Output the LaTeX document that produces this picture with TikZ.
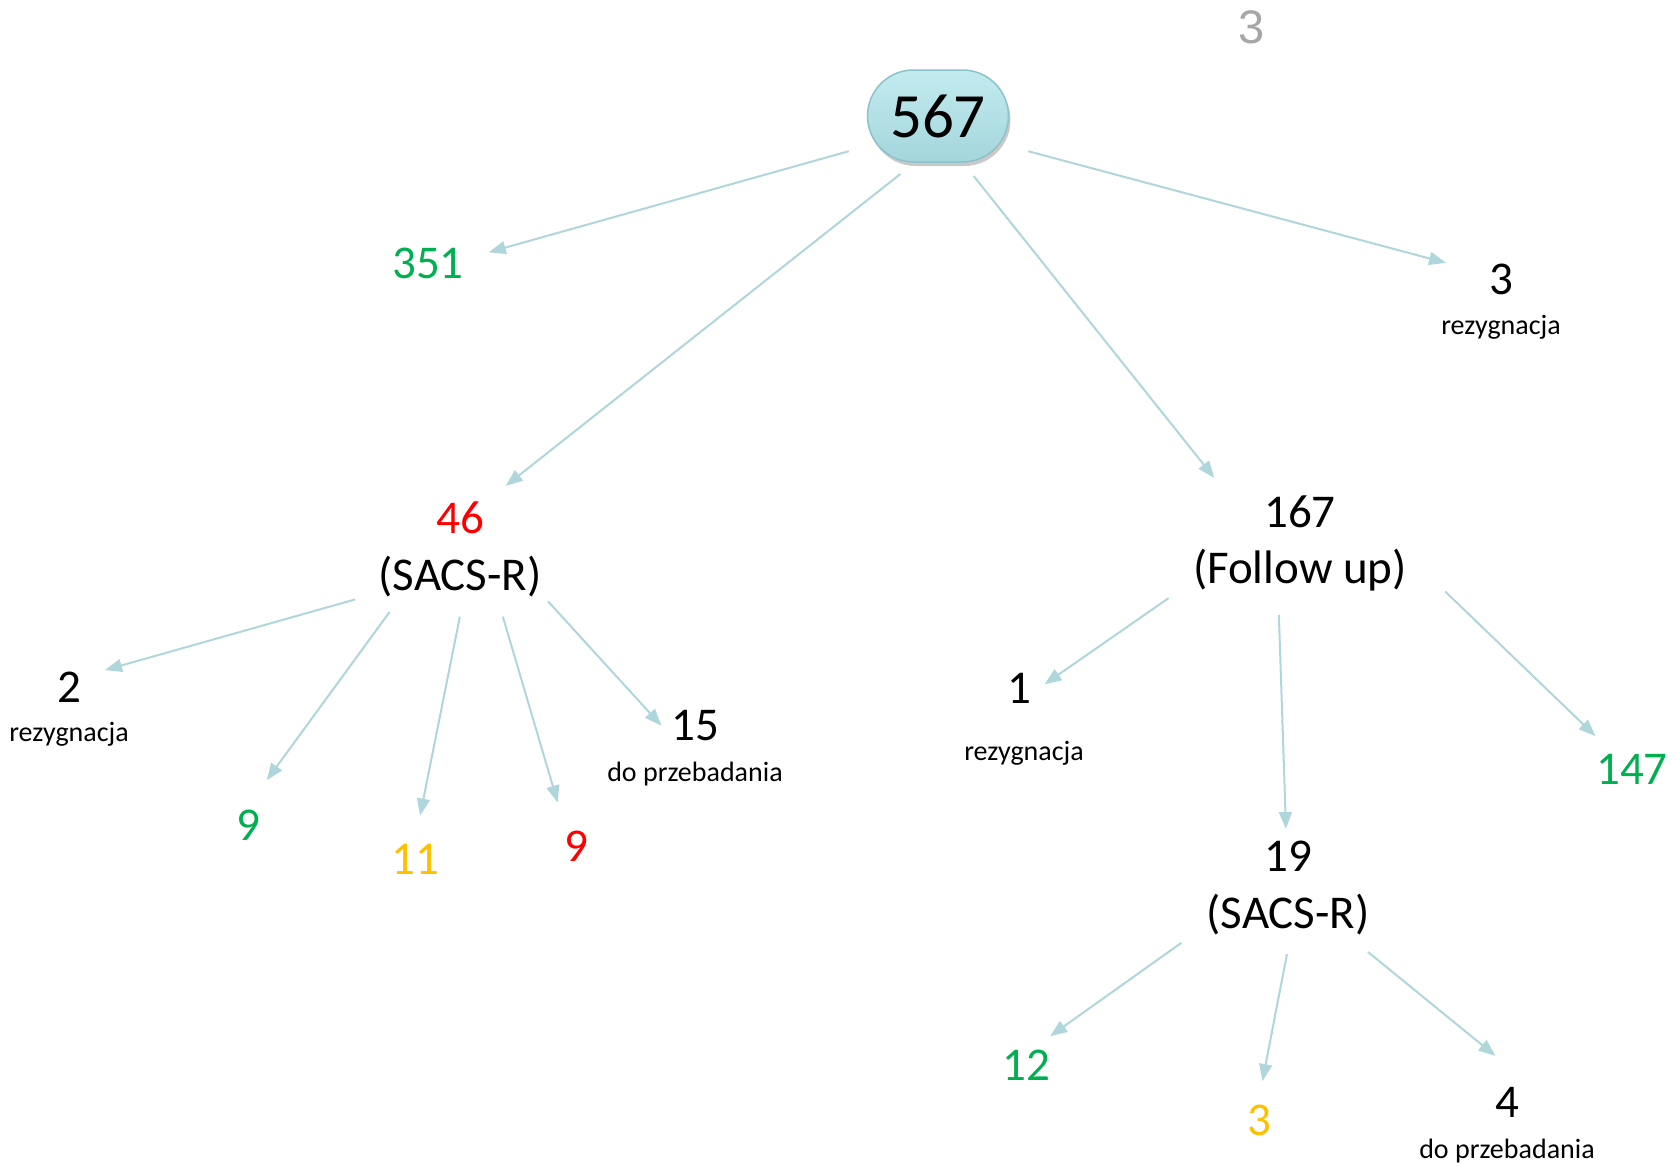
\documentclass[tikz,border=0pt]{standalone}
\usepackage{fontspec}
\setmainfont{Carlito}
\newfontfamily\arialfont{Liberation Sans}
\usetikzlibrary{arrows.meta,positioning,shadows}
\definecolor{flow}{HTML}{AED6DB}
\definecolor{okgreen}{HTML}{00B050}
\definecolor{badred}{HTML}{FF0000}
\definecolor{midamber}{HTML}{FFC000}
\definecolor{pilltop}{HTML}{C2EBEF}
\definecolor{pillbot}{HTML}{A4D6DC}
\definecolor{pilledge}{HTML}{8CC2CA}
\definecolor{faint}{HTML}{A6A6A6}

\begin{document}
\begin{tikzpicture}[x=1pt,y=-1pt,>={Triangle[length=17pt,width=13pt]},
  num/.style={inner sep=0pt,font=\fontsize{47}{56}\selectfont},
  lab/.style={inner sep=0pt,font=\fontsize{28}{34}\selectfont},
  arr/.style={->,flow,line width=2pt}]
\useasboundingbox (0,0) rectangle (1676,1165);
% root
\node[draw=pilledge,line width=1.5pt,top color=pilltop,bottom color=pillbot,rounded corners=46pt,minimum width=141pt,minimum height=92pt,inner sep=0pt,outer sep=0pt,drop shadow={shadow xshift=2pt,shadow yshift=-4pt,opacity=0.3,fill=black!70},font=\fontsize{63}{70}\selectfont] (top) at (938,116) {567};
\node[inner sep=0pt,text=faint,font=\arialfont\fontsize{47}{56}\selectfont] (mark) at (1252,27) {3};
% first level
\node[num,text=okgreen] (n351) at (428,263) {351};
\node[num] (n3r) at (1501,279) {3};
\node[lab,below=20pt of n3r] (lab3r) {rezygnacja};
\node[num,text=badred] (n46) at (460,518) {46};
\node[num] (sacsA) at (460,577) {(SACS-R)};
\node[num] (n167) at (1300,512) {167};
\node[num] (fol) at (1300,570) {(Follow up)};
% SACS-R branch
\node[num] (n2) at (69,687) {2};
\node[lab,below=20pt of n2] (lab2) {rezygnacja};
\node[num,text=okgreen] (n9g) at (248,825) {9};
\node[num,text=midamber] (n11) at (415,859) {11};
\node[num,text=badred] (n9r) at (576,846) {9};
\node[num] (n15) at (695,726) {15};
\node[lab,below=20pt of n15] (lab15) {do przebadania};
% follow up branch
\node[num] (n1) at (1019,688) {1};
\node[lab,below=38pt of n1,xshift=5pt] (lab1) {rezygnacja};
\node[num,text=okgreen] (n147) at (1632,769) {147};
\node[num] (n19) at (1288,856) {19};
\node[num] (sacsB) at (1288,915) {(SACS-R)};
\node[num,text=okgreen] (n12) at (1026,1065) {12};
\node[num,text=midamber] (n3y) at (1259,1120) {3};
\node[num,outer sep=15pt] (n4) at (1507,1102) {4};
\node[lab,below=7pt of n4] (lab4) {do przebadania};
% connectors
\draw[arr,shorten <=19.5pt,shorten >=25.8pt] (top.203.5) -- (n351.6.1);
\draw[arr,shorten <=19.4pt,shorten >=27.6pt] (top.244.6) -- (n46.32);
\draw[arr,shorten <=17.9pt,shorten >=90.7pt] (top.298.4) -- (fol.144.3);
\draw[arr,shorten <=20.5pt,shorten >=44.4pt] (top.337.4) -- (n3r.159.3);
\draw[arr,shorten <=24.1pt,shorten >=24.8pt] (sacsA.191.9) -- (n2.40.6);
\draw[arr,shorten <=17.5pt,shorten >=36.3pt] (sacsA.199.8) -- (n9g.100.3);
\draw[arr,shorten <=19.4pt,shorten >=28.7pt] (sacsA.280.8) -- (n11.92.3);
\draw[arr,shorten <=19.8pt,shorten >=29.3pt] (sacsA.331.9) -- (n9r.123.1);
\draw[arr,shorten <=9.5pt,shorten >=14.2pt] (sacsA.348.5) -- (n15.203.4);
\draw[arr,shorten <=29.5pt,shorten >=16.3pt] (fol.186.3) -- (n1.335.6);
\draw[arr,shorten <=23.7pt,shorten >=11.6pt] (fol.224.5) -- (n19.96.5);
\draw[arr,shorten <=52.7pt,shorten >=25.3pt] (fol.8.8) -- (n147.140.4);
\draw[arr,shorten <=30.6pt,shorten >=23pt] (sacsB.187.7) -- (n12.71.8);
\draw[arr,shorten <=18.8pt,shorten >=23.8pt] (sacsB.277.1) -- (n3y.94.2);
\draw[arr,shorten <=25.8pt,shorten >=25.3pt] (sacsB.341.3) -- (n4.75);
\end{tikzpicture}
\end{document}
